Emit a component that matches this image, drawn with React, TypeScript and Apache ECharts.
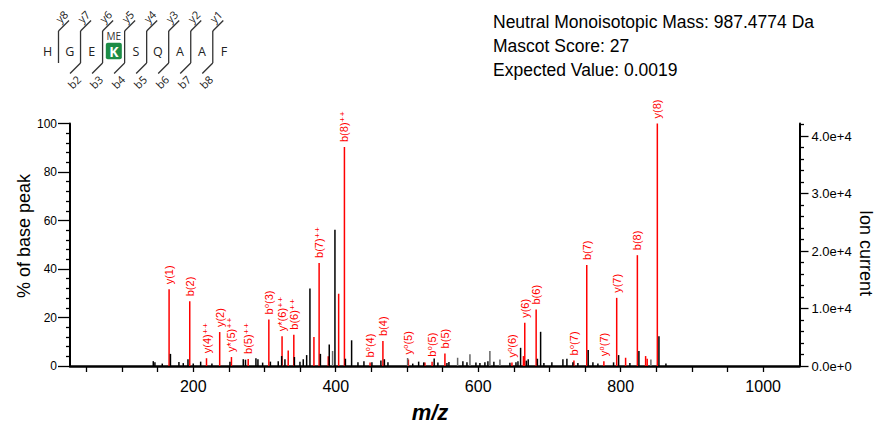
import React, { useEffect, useRef } from "react";
import * as echarts from "echarts";

// ---------- data ----------
const residues = ["H", "G", "E", "K", "S", "Q", "A", "A", "F"];
const modifiedResidueIndex = 3;
const modificationLabel = "ME";
const yIonMarks = ["y8", "y7", "y6", "y5", "y4", "y3", "y2", "y1"];
const bIonMarks = ["", "b2", "b3", "b4", "b5", "b6", "b7", "b8"];

const infoLines = [
  "Neutral Monoisotopic Mass: 987.4774 Da",
  "Mascot Score: 27",
  "Expected Value: 0.0019",
];

// matched (labelled) fragment ions: m/z and % of base peak
const matchedLabels = [
  "y(1)", "b(2)", "y(4)⁺⁺", "y(2)", "y*(5)⁺⁺", "b(5)⁺⁺", "b⁰(3)", "y*(6)⁺⁺",
  "b(6)⁺⁺", "b(7)⁺⁺", "b(8)⁺⁺", "b⁰(4)", "b(4)", "y⁰(5)", "b⁰(5)", "b(5)",
  "y⁰(6)", "y(6)", "b(6)", "b⁰(7)", "b(7)", "y⁰(7)", "y(7)", "b(8)", "y(8)",
];
const matchedMz = [
  166.09, 195.09, 218.61, 237.12, 253.62, 277.14, 306.12, 324.67,
  341.17, 376.69, 412.21, 448.23, 466.24, 502.0, 535.26, 553.27,
  647.35, 665.36, 681.33, 734.36, 752.37, 776.39, 794.4, 823.41, 851.43,
];
const matchedPct = [
  31.6, 26.7, 3.2, 14.0, 3.7, 2.9, 19.2, 12.3,
  12.9, 42.5, 90.3, 1.4, 10.3, 2.7, 1.8, 5.2,
  1.4, 17.8, 23.3, 2.3, 41.6, 2.0, 28.1, 45.7, 100,
];

// matched but unlabelled peaks
const otherRedMz = [333.3, 369.4, 389.5, 404.1, 525.2, 663.5, 806.9, 835.0, 837.2];
const otherRedPct = [6.4, 12.0, 4.0, 29.8, 1.4, 4.1, 3.4, 4.1, 3.0];

// unmatched peaks (grey)
const greyMz = [395.6, 500.9, 571.1, 588.4, 616.4, 630.5, 842.4];
const greyPct = [6.2, 3.3, 3.4, 4.8, 6.2, 2.7, 2.7];

// unmatched peaks (black)
const blackMz = [
  143.9, 146.2, 156.5, 168.0, 179.9, 186.0, 192.6, 200.0, 210.4, 226.2,
  251.5, 270.2, 273.3, 288.0, 290.8, 297.4, 308.3, 319.3, 324.1, 328.7,
  342.0, 349.8, 354.4, 359.2, 363.8, 378.5, 390.9, 398.9, 413.6, 422.3,
  431.2, 439.6, 450.8, 463.4, 468.3, 473.3, 508.1, 516.4, 523.5, 538.2,
  543.4, 556.1, 558.9, 578.5, 584.2, 596.8, 602.4, 609.4, 613.6, 622.0,
  644.5, 653.0, 655.8, 659.5, 667.6, 670.2, 683.1, 687.6, 692.2, 703.4,
  718.9, 724.5, 732.9, 739.9, 754.4, 761.0, 768.0, 790.0, 797.1, 812.9,
  825.6, 853.7, 863.5,
];
const blackPct = [
  2.0, 1.5, 1.0, 5.0, 1.6, 1.2, 2.8, 1.0, 1.8, 1.0,
  1.8, 2.8, 2.6, 3.2, 2.8, 1.4, 1.8, 2.0, 4.1, 2.8,
  3.7, 1.8, 2.8, 4.5, 32.0, 5.0, 8.9, 56.2, 3.0, 10.6,
  1.5, 2.0, 1.5, 2.3, 2.8, 1.5, 1.0, 1.8, 1.5, 3.1,
  1.4, 1.2, 1.6, 2.0, 1.5, 1.4, 1.2, 1.5, 2.0, 1.8,
  1.3, 1.5, 2.0, 7.5, 2.2, 2.8, 3.0, 14.1, 1.2, 1.5,
  2.8, 3.0, 1.5, 1.2, 6.6, 1.5, 1.0, 1.5, 4.5, 1.2,
  6.2, 12.3, 1.0,
];

const xLabelValues = [200, 400, 600, 800, 1000];
const xTickValues = [
  50, 100, 150, 200, 250, 300, 350, 400, 450, 500,
  550, 600, 650, 700, 750, 800, 850, 900, 950, 1000,
];
const ionCurrentMajor = [0, 10000, 20000, 30000, 40000];
const ionCurrentMinor = [
  2000, 4000, 6000, 8000, 12000, 14000, 16000, 18000, 22000, 24000,
  26000, 28000, 32000, 34000, 36000, 38000, 42000,
];
const baseAbundance = 42200;

// ---------- helpers ----------
const FONT = "'Liberation Sans', Arial, 'DejaVu Sans', sans-serif";
const DFONT = "'Open Sans', 'Noto Sans', 'DejaVu Sans', sans-serif";

function peakSeries(mz: number[], pct: number[], color: string, labels?: string[]) {
  return {
    type: "custom",
    silent: true,
    coordinateSystem: "cartesian2d",
    xAxisIndex: 0,
    yAxisIndex: 0,
    encode: { x: 0, y: 1 },
    data: mz.map((m, i) => [m, pct[i]]),
    renderItem: (params: any, api: any) => {
      const m = api.value(0);
      const v = api.value(1);
      const base = api.coord([m, 0]);
      const top = api.coord([m, v]);
      const children: any[] = [
        {
          type: "line",
          shape: { x1: base[0], y1: base[1], x2: top[0], y2: top[1] },
          style: { stroke: color, lineWidth: 1.5 },
        },
      ];
      if (labels) {
        children.push({
          type: "text",
          x: top[0],
          y: top[1] - 5,
          rotation: Math.PI / 2,
          style: {
            text: labels[params.dataIndex],
            fill: color,
            fontSize: 11,
            fontFamily: FONT,
            align: "left",
            verticalAlign: "middle",
          },
        });
      }
      return { type: "group", children };
    },
  };
}

function fmtExp(v: number) {
  if (v === 0) return "0.0e+0";
  const e = Math.floor(Math.log10(v));
  return (v / Math.pow(10, e)).toFixed(1) + "e+" + e;
}

function buildGraphic() {
  const g: any[] = [];
  infoLines.forEach((t, i) => {
    g.push({
      type: "text",
      x: 493,
      y: 22 + i * 24,
      style: { text: t, fill: "#000", fontSize: 17.5, fontFamily: FONT, verticalAlign: "middle" },
    });
  });
  g.push({
    type: "text",
    x: 24,
    y: 236,
    rotation: Math.PI / 2,
    style: { text: "% of base peak", fill: "#000", fontSize: 18, fontFamily: FONT, align: "center", verticalAlign: "middle" },
  });
  g.push({
    type: "text",
    x: 866,
    y: 253,
    rotation: -Math.PI / 2,
    style: { text: "Ion current", fill: "#000", fontSize: 18, fontFamily: FONT, align: "center", verticalAlign: "middle" },
  });
  g.push({
    type: "text",
    x: 430,
    y: 412,
    style: { text: "m/z", fill: "#000", fontSize: 22, fontWeight: "bold", fontStyle: "italic", fontFamily: FONT, align: "center", verticalAlign: "middle" },
  });

  // peptide fragmentation diagram
  residues.forEach((r, i) => {
    const cx = 47.7 + 22.04 * i;
    if (i === modifiedResidueIndex) {
      g.push({ type: "rect", shape: { x: cx - 8, y: 42.7, width: 16, height: 16.6, r: 2 }, style: { fill: "#1c8c46" } });
      g.push({ type: "text", x: cx, y: 51.5, style: { text: r, fill: "#fff", fontSize: 14, fontWeight: "bold", fontFamily: DFONT, align: "center", verticalAlign: "middle" } });
      g.push({ type: "text", x: cx, y: 35.5, style: { text: modificationLabel, fill: "#333", fontSize: 10, fontFamily: DFONT, align: "center", verticalAlign: "middle" } });
    } else {
      g.push({ type: "text", x: cx, y: 51.8, style: { text: r, fill: "#222", fontSize: 12.5, fontFamily: DFONT, align: "center", verticalAlign: "middle" } });
    }
  });
  yIonMarks.forEach((lab, i) => {
    const xv = 58.5 + 22.04 * i;
    const st = { stroke: "#333", lineWidth: 1.3 };
    g.push({ type: "line", shape: { x1: xv, y1: 31, x2: xv, y2: 63 }, style: st });
    g.push({ type: "line", shape: { x1: xv, y1: 31, x2: xv + 10.5, y2: 20.5 }, style: st });
    g.push({ type: "text", x: xv + 3, y: 16.5, rotation: Math.PI / 4, style: { text: lab, fill: "#222", fontSize: 11, fontFamily: DFONT, align: "center", verticalAlign: "middle" } });
    const bl = bIonMarks[i];
    if (bl) {
      g.push({ type: "line", shape: { x1: xv, y1: 63, x2: xv - 10.5, y2: 73.5 }, style: st });
      g.push({ type: "text", x: xv - 6.5, y: 82, rotation: Math.PI / 4, style: { text: bl, fill: "#222", fontSize: 11, fontFamily: DFONT, align: "center", verticalAlign: "middle" } });
    }
  });
  return g;
}

export default function App() {
  const ref = useRef<HTMLDivElement>(null);
  useEffect(() => {
    if (!ref.current) return;
    const chart = echarts.init(ref.current, undefined, { renderer: "svg" });
    chart.setOption({
      animation: false,
      backgroundColor: "#fff",
      textStyle: { fontFamily: FONT },
      grid: { left: 70, right: 80.5, top: 123.5, bottom: 57, outerBoundsMode: "none" },
      xAxis: {
        type: "value",
        min: 27,
        max: 1051,
        splitLine: { show: false },
        axisLine: { show: true, lineStyle: { color: "#000", width: 2.5 } },
        axisTick: { show: true, customValues: xTickValues, length: 6, lineStyle: { color: "#000", width: 1.3 } },
        axisLabel: { customValues: xLabelValues, formatter: (v: number) => String(v), fontSize: 16, color: "#000", margin: 12, fontFamily: FONT },
      },
      yAxis: [
        {
          type: "value",
          position: "left",
          min: 0,
          max: 100,
          interval: 20,
          splitLine: { show: false },
          axisLine: { show: true, lineStyle: { color: "#000", width: 2 } },
          axisTick: { show: true, length: 12, lineStyle: { color: "#000", width: 1.3 } },
          minorTick: { show: true, splitNumber: 5, length: 4, lineStyle: { color: "#000", width: 1.3 } },
          axisLabel: { fontSize: 12, color: "#000", margin: 13, fontFamily: FONT },
        },
        {
          type: "value",
          position: "right",
          min: 0,
          max: baseAbundance,
          splitLine: { show: false },
          axisLine: { show: true, lineStyle: { color: "#000", width: 2 } },
          axisTick: { show: true, customValues: ionCurrentMajor, length: 9, lineStyle: { color: "#000", width: 1.3 } },
          axisLabel: { customValues: ionCurrentMajor, formatter: (v: number) => fmtExp(v), fontSize: 13, color: "#000", margin: 12, fontFamily: FONT },
        },
        {
          type: "value",
          position: "right",
          min: 0,
          max: baseAbundance,
          splitLine: { show: false },
          axisLine: { show: false },
          axisTick: { show: true, customValues: ionCurrentMinor, length: 4.5, lineStyle: { color: "#000", width: 1.3 } },
          axisLabel: { show: false },
        },
      ],
      series: [
        peakSeries(matchedMz, matchedPct, "#ff0000", matchedLabels),
        peakSeries(otherRedMz, otherRedPct, "#ff0000"),
        peakSeries(greyMz, greyPct, "#666666"),
        peakSeries(blackMz, blackPct, "#000000"),
      ],
      graphic: buildGraphic(),
    });
    return () => chart.dispose();
  }, []);
  return (
    <div
      ref={ref}
      style={{ position: "fixed", left: 0, top: 0, width: 880, height: 423, background: "#fff" }}
    />
  );
}
